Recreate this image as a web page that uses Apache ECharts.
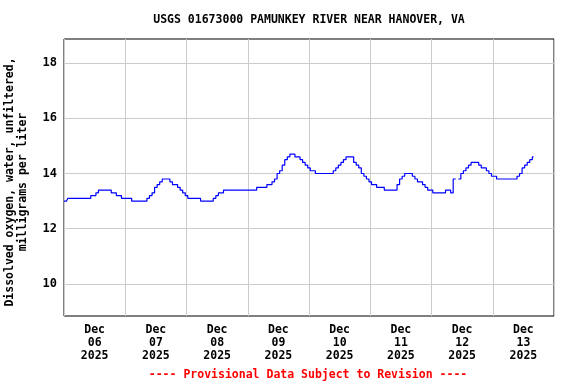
<!DOCTYPE html>
<html>
<head>
<meta charset="utf-8">
<script src="https://cdn.jsdelivr.net/npm/echarts@6/dist/echarts.min.js"></script>
<style>html,body{margin:0;padding:0;background:#fff}#c{width:576px;height:384px}</style>
</head>
<body>
<div id="c"></div>
<script>
// Hourly dissolved oxygen (mg/L), starting Dec 06 2025 00:00
const startHour = 0;
const stepHours = 1;
const doValues = [
  // Dec 06
  13.0,13.0,13.1,13.1,13.1,13.1,13.1,13.1,13.1,13.1,13.1,13.2,13.2,13.3,13.4,13.4,13.4,13.4,13.4,13.3,13.3,13.2,13.2,13.1,
  // Dec 07
  13.1,13.1,13.1,13.0,13.0,13.0,13.0,13.0,13.0,13.1,13.2,13.3,13.5,13.6,13.7,13.8,13.8,13.8,13.7,13.6,13.6,13.5,13.4,13.3,
  // Dec 08
  13.2,13.1,13.1,13.1,13.1,13.1,13.0,13.0,13.0,13.0,13.0,13.1,13.2,13.3,13.3,13.4,13.4,13.4,13.4,13.4,13.4,13.4,13.4,13.4,
  // Dec 09
  13.4,13.4,13.4,13.4,13.5,13.5,13.5,13.5,13.6,13.6,13.7,13.8,14.0,14.1,14.3,14.5,14.6,14.7,14.7,14.6,14.6,14.5,14.4,14.3,
  // Dec 10
  14.2,14.1,14.1,14.0,14.0,14.0,14.0,14.0,14.0,14.0,14.1,14.2,14.3,14.4,14.5,14.6,14.6,14.6,14.4,14.3,14.2,14.0,13.9,13.8,
  // Dec 11
  13.7,13.6,13.6,13.5,13.5,13.5,13.4,13.4,13.4,13.4,13.4,13.6,13.8,13.9,14.0,14.0,14.0,13.9,13.8,13.7,13.7,13.6,13.5,13.4,
  // Dec 12
  13.4,13.3,13.3,13.3,13.3,13.3,13.4,13.4,13.3,13.8,null,13.8,14.0,14.1,14.2,14.3,14.4,14.4,14.4,14.3,14.2,14.2,14.1,14.0,
  // Dec 13
  13.9,13.9,13.8,13.8,13.8,13.8,13.8,13.8,13.8,13.8,13.9,14.0,14.2,14.3,14.4,14.5,14.6
];
const dayLabels = ['Dec\n06\n2025','Dec\n07\n2025','Dec\n08\n2025','Dec\n09\n2025','Dec\n10\n2025','Dec\n11\n2025','Dec\n12\n2025','Dec\n13\n2025'];
const yTicks = [10, 12, 14, 16, 18];
const yMin = 8.84, yMax = 18.87;
const totalHours = 192, dayHours = 24;

const titleText = 'USGS 01673000 PAMUNKEY RIVER NEAR HANOVER, VA';
const yNameText = 'Dissolved oxygen, water, unfiltered,\nmilligrams per liter';
const footerText = '---- Provisional Data Subject to Revision ----';

const FONT = '"DejaVu Sans Mono", monospace';
const seriesData = doValues.map((v, i) => [startHour + i * stepHours, v]);

const chart = echarts.init(document.getElementById('c'), null, {renderer: 'canvas'});
chart.setOption({
  animation: false,
  backgroundColor: '#ffffff',
  grid: {left: 64, right: 22, top: 39, bottom: 68, show: true, borderColor: '#000', borderWidth: 1, backgroundColor: 'transparent'},
  xAxis: [
    {type: 'value', min: 0, max: totalHours, interval: dayHours,
     axisLine: {show: false}, axisTick: {show: false}, axisLabel: {show: false},
     splitLine: {show: true, lineStyle: {color: '#cccccc', width: 1}}},
    {type: 'category', data: dayLabels, boundaryGap: true, position: 'bottom',
     axisLine: {show: false}, axisTick: {show: false}, splitLine: {show: false},
     axisLabel: {interval: 0, color: '#000', fontFamily: FONT, fontWeight: 'bold', fontSize: 11.5, lineHeight: 13, margin: 8}}
  ],
  yAxis: {type: 'value', min: yMin, max: yMax,
    axisLine: {show: false}, axisTick: {show: false}, splitLine: {show: false},
    axisLabel: {customValues: yTicks, color: '#000', fontFamily: FONT, fontWeight: 'bold', fontSize: 12, margin: 7,
      formatter: v => String(Math.round(v))}},
  graphic: [
    {type: 'text', x: 309, y: 20, style: {text: titleText, font: 'bold 11.5px ' + FONT, fill: '#000', align: 'center', verticalAlign: 'middle'}},
    {type: 'text', x: 17, y: 182, rotation: Math.PI / 2, style: {text: yNameText, font: 'bold 11.5px ' + FONT, fill: '#000', align: 'center', verticalAlign: 'middle', lineHeight: 13}},
    {type: 'text', x: 308, y: 375, style: {text: footerText, font: 'bold 11.5px ' + FONT, fill: '#ff0000', align: 'center', verticalAlign: 'middle'}}
  ],
  series: [
    {type: 'line', data: [], z: 1, zlevel: 0, xAxisIndex: 0,
     markLine: {silent: true, symbol: 'none', label: {show: false}, animation: false,
       lineStyle: {color: '#cccccc', width: 1, type: 'solid'},
       data: yTicks.map(t => ({yAxis: t}))}},
    {type: 'line', data: seriesData, xAxisIndex: 0, z: 3, zlevel: 1, showSymbol: false, step: 'middle',
     connectNulls: false, lineStyle: {color: '#0000ff', width: 1.2}, itemStyle: {color: '#0000ff'}}
  ]
});
</script>
</body>
</html>
